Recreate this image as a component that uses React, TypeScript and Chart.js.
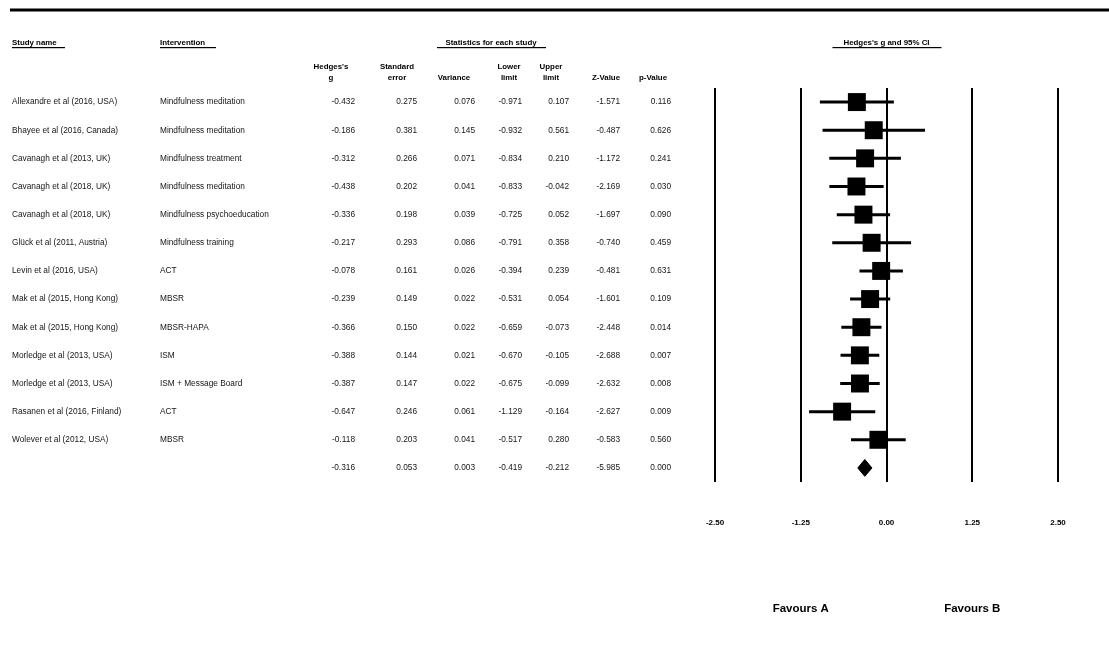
import React, { useEffect, useRef } from 'react';
import { Chart, registerables } from 'chart.js';

Chart.register(...registerables);

const studyNames = [
  'Allexandre et al (2016, USA)',
  'Bhayee et al (2016, Canada)',
  'Cavanagh et al (2013, UK)',
  'Cavanagh et al (2018, UK)',
  'Cavanagh et al (2018, UK)',
  'Glück et al (2011, Austria)',
  'Levin et al (2016, USA)',
  'Mak et al (2015, Hong Kong)',
  'Mak et al (2015, Hong Kong)',
  'Morledge et al (2013, USA)',
  'Morledge et al (2013, USA)',
  'Rasanen et al (2016, Finland)',
  'Wolever et al (2012, USA)',
];
const interventions = [
  'Mindfulness meditation',
  'Mindfulness meditation',
  'Mindfulness treatment',
  'Mindfulness meditation',
  'Mindfulness psychoeducation',
  'Mindfulness training',
  'ACT',
  'MBSR',
  'MBSR-HAPA',
  'ISM',
  'ISM + Message Board',
  'ACT',
  'MBSR',
];
const hedgesG = [-0.432, -0.186, -0.312, -0.438, -0.336, -0.217, -0.078, -0.239, -0.366, -0.388, -0.387, -0.647, -0.118];
const stdError = [0.275, 0.381, 0.266, 0.202, 0.198, 0.293, 0.161, 0.149, 0.15, 0.144, 0.147, 0.246, 0.203];
const variance = [0.076, 0.145, 0.071, 0.041, 0.039, 0.086, 0.026, 0.022, 0.022, 0.021, 0.022, 0.061, 0.041];
const lowerLimit = [-0.971, -0.932, -0.834, -0.833, -0.725, -0.791, -0.394, -0.531, -0.659, -0.67, -0.675, -1.129, -0.517];
const upperLimit = [0.107, 0.561, 0.21, -0.042, 0.052, 0.358, 0.239, 0.054, -0.073, -0.105, -0.099, -0.164, 0.28];
const zValue = [-1.571, -0.487, -1.172, -2.169, -1.697, -0.74, -0.481, -1.601, -2.448, -2.688, -2.632, -2.627, -0.583];
const pValue = [0.116, 0.626, 0.241, 0.03, 0.09, 0.459, 0.631, 0.109, 0.014, 0.007, 0.008, 0.009, 0.56];

const summaryG = -0.316;
const summarySE = 0.053;
const summaryVariance = 0.003;
const summaryLower = -0.419;
const summaryUpper = -0.212;
const summaryZ = -5.985;
const summaryP = 0.0;

const columnHeaders = [
  ["Hedges's", 'g'],
  ['Standard', 'error'],
  ['', 'Variance'],
  ['Lower', 'limit'],
  ['Upper', 'limit'],
  ['', 'Z-Value'],
  ['', 'p-Value'],
];
const xTicks = [-2.5, -1.25, 0, 1.25, 2.5];
const favourLabels = ['Favours A', 'Favours B'];

const FONT = '"Liberation Sans", Arial, Helvetica, sans-serif';

const tablePlugin = {
  id: 'forestTable',
  afterDraw(chart: any) {
    const ctx = chart.ctx as CanvasRenderingContext2D;
    const ys = chart.scales.y;
    const xs = chart.scales.x;
    ctx.save();
    ctx.fillStyle = '#000';
    // top rule
    ctx.fillRect(10, 8.5, 1099, 3);

    const underline = (x1: number, x2: number) => ctx.fillRect(x1, 47, x2 - x1, 1.2);

    ctx.font = `bold 7.9px ${FONT}`;
    ctx.textBaseline = 'middle';
    ctx.textAlign = 'left';
    ctx.fillText('Study name', 12, 43);
    underline(12, 65);
    ctx.fillText('Intervention', 160, 43);
    underline(160, 216);
    ctx.textAlign = 'center';
    ctx.fillText('Statistics for each study', 491, 43);
    underline(437, 546);
    const zeroX = xs.getPixelForValue(0);
    ctx.fillText("Hedges's g and 95% CI", zeroX, 43);
    underline(zeroX - 54, zeroX + 55);

    const headerCenters = [331, 397, 454, 509, 551, 606, 653];
    columnHeaders.forEach((h, k) => {
      if (h[0]) ctx.fillText(h[0], headerCenters[k], 67);
      ctx.fillText(h[1], headerCenters[k], 78);
    });

    const valueRight = [355, 417, 475, 522, 569, 620, 671];
    ctx.font = `8.3px ${FONT}`;
    ctx.fillStyle = '#151515';
    const drawValues = (vals: number[], y: number) => {
      ctx.textAlign = 'right';
      vals.forEach((v, k) => ctx.fillText(v.toFixed(3), valueRight[k], y));
    };
    studyNames.forEach((name, i) => {
      const y = ys.getPixelForValue(i);
      ctx.textAlign = 'left';
      ctx.fillText(name, 12, y);
      ctx.fillText(interventions[i], 160, y);
      drawValues([hedgesG[i], stdError[i], variance[i], lowerLimit[i], upperLimit[i], zValue[i], pValue[i]], y);
    });
    drawValues(
      [summaryG, summarySE, summaryVariance, summaryLower, summaryUpper, summaryZ, summaryP],
      ys.getPixelForValue(studyNames.length)
    );

    ctx.fillStyle = '#000';
    ctx.font = `bold 11.5px ${FONT}`;
    ctx.textAlign = 'center';
    ctx.fillText(favourLabels[0], xs.getPixelForValue(-1.25), 609);
    ctx.fillText(favourLabels[1], xs.getPixelForValue(1.25), 609);
    ctx.restore();
  },
};

export default function App() {
  const ref = useRef<HTMLCanvasElement | null>(null);
  useEffect(() => {
    if (!ref.current) return;
    const n = studyNames.length;
    const whiskers = studyNames.map((_, i) => ({
      type: 'line' as const,
      data: [
        { x: lowerLimit[i], y: i },
        { x: upperLimit[i], y: i },
      ],
      borderColor: '#000',
      borderWidth: 3,
      pointRadius: 0,
      fill: false,
      order: 2,
    }));
    const dh = 0.3;
    const chart = new Chart(ref.current, {
      type: 'scatter',
      data: {
        datasets: [
          {
            type: 'scatter',
            data: hedgesG.map((g, i) => ({ x: g, y: i })),
            pointStyle: 'rect',
            pointRadius: 12.7,
            pointBackgroundColor: '#000',
            pointBorderWidth: 0,
            backgroundColor: '#000',
            borderWidth: 0,
            order: 0,
          } as any,
          {
            type: 'line',
            data: [
              { x: summaryLower, y: n },
              { x: summaryG, y: n - dh },
              { x: summaryUpper, y: n },
            ],
            borderColor: '#000',
            borderWidth: 1,
            backgroundColor: '#000',
            pointRadius: 0,
            fill: '+1',
            order: 1,
          } as any,
          {
            type: 'line',
            data: [
              { x: summaryLower, y: n },
              { x: summaryG, y: n + dh },
              { x: summaryUpper, y: n },
            ],
            borderColor: '#000',
            borderWidth: 1,
            backgroundColor: '#000',
            pointRadius: 0,
            fill: false,
            order: 1,
          } as any,
          ...(whiskers as any[]),
        ],
      },
      options: {
        animation: false,
        responsive: false,
        devicePixelRatio: 1,
        layout: { padding: { left: 715, right: 51, top: 88, bottom: 0 } },
        plugins: { legend: { display: false }, tooltip: { enabled: false } },
        scales: {
          x: {
            type: 'linear',
            min: -2.5,
            max: 2.5,
            afterBuildTicks: (s: any) => {
              s.ticks = xTicks.map((v) => ({ value: v }));
            },
            afterFit: (s: any) => {
              s.height = 190;
            },
            grid: { color: '#000', lineWidth: 2, drawTicks: false },
            border: { display: false },
            ticks: {
              padding: 36,
              color: '#000',
              font: { family: FONT, size: 8, weight: 'bold' },
              callback: (v: any) => Number(v).toFixed(2),
            },
          },
          y: {
            type: 'linear',
            min: -0.5,
            max: n + 0.5,
            reverse: true,
            display: false,
          },
        },
      } as any,
      plugins: [tablePlugin],
    });
    return () => chart.destroy();
  }, []);
  return (
    <div style={{ position: 'absolute', left: 0, top: 0, width: 1109, height: 672, background: '#fff' }}>
      <canvas ref={ref} width={1109} height={672} style={{ display: 'block' }} />
    </div>
  );
}
